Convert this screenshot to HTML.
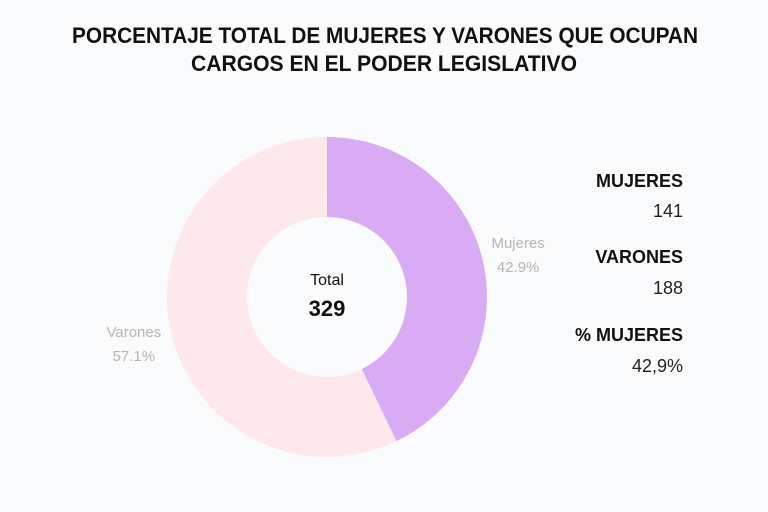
<!DOCTYPE html>
<html><head><meta charset="utf-8"><style>
body{margin:0;background:#fafbfc;}
svg{display:block;font-family:"Liberation Sans",sans-serif;}
</style></head><body>
<svg id="chart" width="768" height="512">
<rect width="768" height="512" fill="#fafbfc"/>
<text x="385" y="43" text-anchor="middle" font-size="22" font-weight="bold" fill="#111" textLength="626" lengthAdjust="spacingAndGlyphs">PORCENTAJE TOTAL DE MUJERES Y VARONES QUE OCUPAN</text>
<text x="384" y="71" text-anchor="middle" font-size="22" font-weight="bold" fill="#111" textLength="386" lengthAdjust="spacingAndGlyphs">CARGOS EN EL PODER LEGISLATIVO</text>
<g id="slices"></g>
<text x="327" y="285" text-anchor="middle" font-size="16" fill="#111">Total</text>
<text x="327" y="316" text-anchor="middle" font-size="22" font-weight="bold" fill="#111">329</text>
<g font-size="18" text-anchor="end">
<text x="683" y="187" font-weight="bold" fill="#111">MUJERES</text>
<text x="683" y="217" fill="#222">141</text>
<text x="683" y="263" font-weight="bold" fill="#111">VARONES</text>
<text x="683" y="294" fill="#222">188</text>
<text x="683" y="341" font-weight="bold" fill="#111">% MUJERES</text>
<text x="683" y="372" fill="#222">42,9%</text>
</g>
</svg>
<script>
const categories=["Mujeres","Varones"];
const values=[141,188];
const colors=["#d9abf5","#fde9ec"];
const cx=327,cy=297,R=160,r=80;
const ns="http://www.w3.org/2000/svg";
const g=document.getElementById("slices");
const total=values.reduce((a,b)=>a+b,0);
let a0=0;
function pt(a,rad){return [cx+rad*Math.sin(a),cy-rad*Math.cos(a)];}
values.forEach((v,i)=>{
  const a1=a0+v/total*2*Math.PI;
  const large=(a1-a0)>Math.PI?1:0;
  const [x0,y0]=pt(a0,R),[x1,y1]=pt(a1,R),[x2,y2]=pt(a1,r),[x3,y3]=pt(a0,r);
  const p=document.createElementNS(ns,"path");
  p.setAttribute("d",`M${x0},${y0}A${R},${R} 0 ${large} 1 ${x1},${y1}L${x2},${y2}A${r},${r} 0 ${large} 0 ${x3},${y3}Z`);
  p.setAttribute("fill",colors[i]);
  
  
  g.appendChild(p);
  const mid=(a0+a1)/2;
  const [lx,ly]=pt(mid,R+34);
  const dx=i==0?2:-4, dy=i==0?0:3;
  const pct=(v/total*100).toFixed(1)+"%";
  [categories[i],pct].forEach((s,j)=>{
    const t=document.createElementNS(ns,"text");
    t.setAttribute("x",lx+dx);t.setAttribute("y",ly+dy+(j==0?-6:18));
    t.setAttribute("text-anchor","middle");t.setAttribute("font-size","15");t.setAttribute("fill","#b5b5b5");
    t.textContent=s;
    
    
    g.appendChild(t);
  });
  a0=a1;
});
</script>
</body></html>
